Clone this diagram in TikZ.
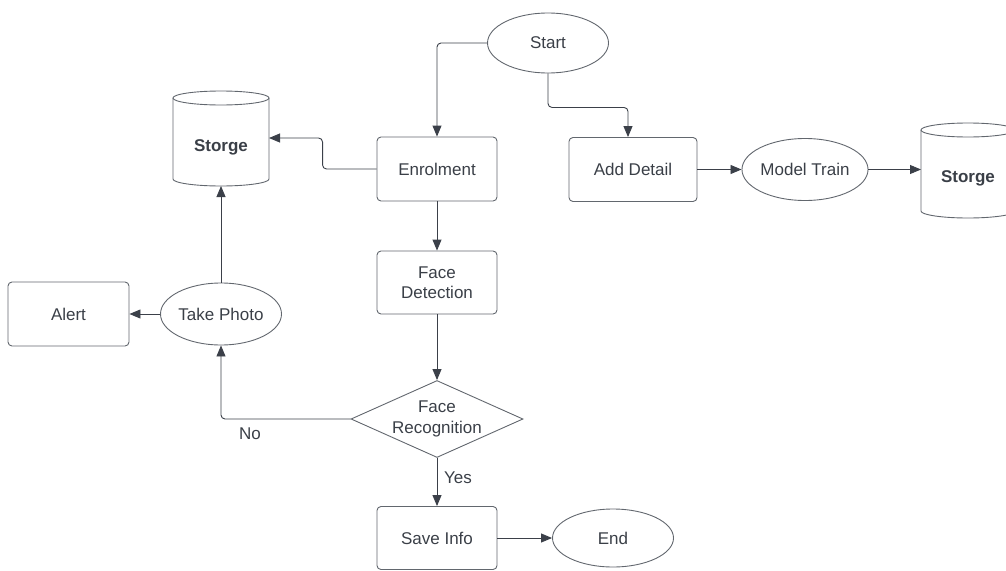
\documentclass[tikz,border=0pt]{standalone}
\usepackage{fontspec}
\setmainfont{Liberation Sans}
\usetikzlibrary{shapes.geometric,arrows.meta}
\definecolor{ln}{HTML}{62676E}
\definecolor{tx}{HTML}{3A3F47}
\definecolor{ar}{HTML}{3B4049}
\begin{document}
\begin{tikzpicture}[x=1pt,y=-1pt,
  font=\fontsize{17}{20.5}\selectfont, text=tx,
  box/.style={draw=ln, line width=0.9pt, rounded corners=4pt, minimum width=120pt, minimum height=64pt, align=center, inner sep=0pt},
  oval/.style={ellipse, draw=ln, line width=0.9pt, minimum width=121pt, minimum height=60pt, inner sep=0pt},
  dia/.style={diamond, draw=ln, line width=0.9pt, minimum width=172pt, minimum height=77pt, inner sep=0pt},
  conn/.style={draw=ar, line width=0.9pt, rounded corners=4pt, -{Triangle[length=11pt,width=9pt]}},
  cyl/.style={draw=ln, line width=0.9pt},
  cyltext/.style={font=\fontsize{17}{20}\selectfont\bfseries}
]
\useasboundingbox (0,0) rectangle (1006,570);
\clip (0,0) rectangle (1006,570);

% nodes
\node[oval] (start) at (548,43) {Start};
\node[box] (enrol) at (437,169) {Enrolment};
\node[box, minimum width=128pt] (add) at (633,169.5) {Add Detail};
\node[oval, minimum height=62pt] (mt) at (805,169.5) {Model Train};
\node[box, minimum height=63pt] (fd) at (437,282.5) {Face\\Detection};
\node[dia] (fr) at (437,419) {};
\node[align=center] (frt) at (fr.center) {Face\\Recognition};
\node[oval, minimum height=62pt] (tp) at (221,314) {Take Photo};
\node[box, minimum width=121pt] (alert) at (68.5,314) {Alert};
\node[box, minimum height=63pt] (save) at (437,538) {Save Info};
\node[oval, minimum height=58pt] (end) at (613,538) {End};

% left storage cylinder
\node[cyltext] (st1) at (221,147) {Storge};
\draw[cyl] (173,98) -- (173,179) arc (180:0:48 and 7) -- (269,98);
\draw[cyl] (221,98) ellipse (48 and 7);
\coordinate (st1L) at (269,138);
\coordinate (st1B) at (221,186);

% right storage cylinder
\node[cyltext] (st2) at (968,178) {Storge};
\draw[cyl] (921,130) -- (921,211) arc (180:0:47 and 7) -- (1015,130);
\draw[cyl] (968,130) ellipse (47 and 7);
\coordinate (st2L) at (921,169.5);

% connectors
\draw[conn] (start.west) -| (enrol.north);
\draw[conn] (start.south) -- ++(0,34) -| ([xshift=-5pt]add.north);
\draw[conn] (enrol.west) -- ++(-54,0) |- (st1L);
\draw[conn] (enrol.south) -- (fd.north);
\draw[conn] (fd.south) -- (fr.north);
\draw[conn] (fr.west) -| (tp.south);
\draw[conn] (tp.north) -- (st1B);
\draw[conn] (tp.west) -- (alert.east);
\draw[conn] (fr.south) -- (save.north);
\draw[conn] (save.east) -- (end.west);
\draw[conn] (add.east) -- (mt.west);
\draw[conn] (mt.east) -- (st2L);

% labels
\node (yes) at (458,478) {Yes};
\node (no) at (250,434) {No};
\end{tikzpicture}
\end{document}
